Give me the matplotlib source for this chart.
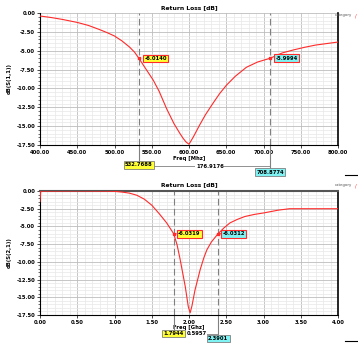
import matplotlib
matplotlib.use("Agg")
import matplotlib.pyplot as plt
from matplotlib.ticker import MultipleLocator, FormatStrFormatter
from matplotlib.lines import Line2D

# ---------------- data ----------------
top_freq = [400, 415, 430, 450, 465, 480, 490, 500, 510, 520, 527, 532.77, 540, 552, 560, 570, 580, 588,
            592, 596, 600, 606, 614, 622, 632, 641, 650, 662, 677, 692, 708.88, 725, 740, 755, 770, 785, 800]
top_db   = [-0.4, -0.6, -0.85, -1.25, -1.65, -2.2, -2.6, -3.05, -3.7, -4.5, -5.2, -6.01, -7.1, -8.9, -10.4, -12.7,
            -14.7, -16.0, -16.6, -17.1, -17.4, -16.4, -14.9, -13.5, -12.0, -10.7, -9.6, -8.4, -7.2, -6.5, -6.0,
            -5.3, -4.9, -4.55, -4.25, -4.05, -3.85]
top_marker_freq = [532.7688, 708.8774]
top_marker_db = [-6.0140, -5.9994]
top_marker_labels = ["-6.0140", "-5.9994"]
top_freq_labels = ["532.7688", "708.8774"]
top_delta_label = "176.9176"

bot_freq = [0.0, 0.01, 0.5, 0.9, 1.0, 1.1, 1.2, 1.3, 1.4, 1.5, 1.6, 1.7, 1.7944, 1.84, 1.88, 1.95, 1.99, 2.015,
            2.04, 2.08, 2.15, 2.2, 2.24, 2.3, 2.3901, 2.47, 2.55, 2.65, 2.75, 2.88, 3.0, 3.1, 3.2, 3.35, 4.0]
bot_db   = [-1.5, -0.02, 0.0, -0.02, -0.05, -0.15, -0.3, -0.6, -1.15, -2.0, -3.2, -4.5, -6.03, -7.6, -9.6, -13.5,
            -16.3, -17.2, -16.2, -14.0, -11.1, -9.4, -8.3, -7.2, -6.03, -5.2, -4.5, -4.0, -3.6, -3.3, -3.1, -2.9,
            -2.7, -2.5, -2.5]
bot_marker_freq = [1.7944, 2.3901]
bot_marker_db = [-6.0319, -6.0312]
bot_marker_labels = ["-6.0319", "-6.0312"]
bot_freq_labels = ["1.7944", "2.3901"]
bot_delta_label = "0.5957"

W, H = 358, 344
fig = plt.figure(figsize=(W / 100, H / 100), dpi=100)
fig.patch.set_facecolor("white")

RED = "#ff2a2a"
FS = 3.8

def px_axes(left, top, right, bottom):
    return fig.add_axes([left / W, 1 - bottom / H, (right - left) / W, (bottom - top) / H])

def style(ax, xlim, xmaj, xmin, xfmt, topspine_color=None):
    ax.set_xlim(*xlim)
    ax.set_ylim(-17.5, 0.0)
    ax.xaxis.set_major_locator(MultipleLocator(xmaj))
    ax.xaxis.set_minor_locator(MultipleLocator(xmin))
    ax.yaxis.set_major_locator(MultipleLocator(2.5))
    ax.yaxis.set_minor_locator(MultipleLocator(0.5))
    ax.xaxis.set_major_formatter(FormatStrFormatter(xfmt))
    ax.yaxis.set_major_formatter(FormatStrFormatter("%.2f"))
    ax.grid(which="major", color="#bdbdbd", lw=0.6)
    ax.grid(which="minor", color="#e8e8e8", lw=0.5)
    ax.set_axisbelow(True)
    ax.tick_params(axis="both", which="major", labelsize=FS, length=2, width=0.5, pad=1.5)
    ax.tick_params(axis="y", which="minor", length=1.5, width=0.4)
    ax.tick_params(axis="x", which="minor", length=0)
    for lab in ax.get_xticklabels() + ax.get_yticklabels():
        lab.set_fontweight("bold")
    for s in ["left", "bottom"]:
        ax.spines[s].set_color("black")
        ax.spines[s].set_linewidth(0.8)
    ax.spines["right"].set_color("black")
    ax.spines["right"].set_linewidth(1.2)
    if topspine_color is None:
        ax.spines["top"].set_visible(False)
    else:
        ax.spines["top"].set_color(topspine_color)
        ax.spines["top"].set_linewidth(1.5)

def markers(ax, mf, md, mlabels, colors, dx_pts):
    for f, d, lab, c in zip(mf, md, mlabels, colors):
        ax.axvline(f, color="#808080", lw=0.8, ls=(0, (6, 3)), zorder=2)
        ax.plot([f], [d], marker="s", ms=1.5, color=RED, zorder=5)
        ax.annotate(lab, xy=(f, d), xytext=(dx_pts, 0), textcoords="offset points",
                    fontsize=FS, fontweight="bold", va="center", ha="left",
                    bbox=dict(boxstyle="square,pad=0.25", fc=c, ec=RED, lw=0.8),
                    arrowprops=dict(arrowstyle="-", color=RED, lw=0.8), zorder=6)

def bottom_labels(ax, mf, flabels, delta, y1, y2, yd, xd):
    tr = ax.get_xaxis_transform()
    ax.plot([mf[0], mf[0]], [0, y1], transform=tr, color="#808080", lw=0.8, clip_on=False)
    ax.plot([mf[1], mf[1]], [0, y2], transform=tr, color="#808080", lw=0.8, clip_on=False)
    ax.plot([mf[0], mf[1]], [yd, yd], transform=tr, color="#808080", lw=0.6, clip_on=False)
    ax.text(xd, yd, delta, transform=tr, fontsize=FS, fontweight="bold", ha="center", va="center",
            bbox=dict(boxstyle="square,pad=0.1", fc="white", ec="none"), clip_on=False, zorder=5)
    ax.text(mf[0], y1, flabels[0], transform=tr, fontsize=FS, fontweight="bold", ha="center", va="center",
            bbox=dict(boxstyle="square,pad=0.25", fc="#ffff33", ec="#808080", lw=0.6), clip_on=False, zorder=6)
    ax.text(mf[1], y2, flabels[1], transform=tr, fontsize=FS, fontweight="bold", ha="center", va="center",
            bbox=dict(boxstyle="square,pad=0.25", fc="#7ff3f3", ec="#808080", lw=0.6), clip_on=False, zorder=6)

# ---------------- top panel ----------------
ax1 = px_axes(40, 13, 338, 145)
style(ax1, (400, 800), 50, 10, "%.2f")
ax1.plot(top_freq, top_db, color=RED, lw=0.8, zorder=4)
markers(ax1, top_marker_freq, top_marker_db, top_marker_labels, ["#ffff33", "#7ff3f3"], 4)
ax1.set_title("Return Loss [dB]", fontsize=4.3, fontweight="bold", pad=2.5)
ax1.set_xlabel("Freq [Mhz]", fontsize=FS, fontweight="bold", labelpad=0.5)
ax1.set_ylabel("dB(S(1,1))", fontsize=FS, fontweight="bold", labelpad=3)
bottom_labels(ax1, top_marker_freq, top_freq_labels, top_delta_label, -0.15, -0.205, -0.16, 628)

# ---------------- bottom panel ----------------
ax2 = px_axes(40, 191, 338, 315)
style(ax2, (0, 4), 0.5, 0.1, "%.2f", topspine_color="#555555")
ax2.plot(bot_freq, bot_db, color=RED, lw=0.8, zorder=4)
markers(ax2, bot_marker_freq, bot_marker_db, bot_marker_labels, ["#ffff33", "#7ff3f3"], 3)
ax2.set_title("Return Loss [dB]", fontsize=4.3, fontweight="bold", pad=3.5)
ax2.set_xlabel("Freq [Ghz]", fontsize=FS, fontweight="bold", labelpad=0)
ax2.set_ylabel("dB(S(2,1))", fontsize=FS, fontweight="bold", labelpad=3)
bottom_labels(ax2, bot_marker_freq, bot_freq_labels, bot_delta_label, -0.15, -0.19, -0.15, 2.1)

# small legend-like tags at right
fig.text(343 / W, 1 - 15 / H, "category", fontsize=2.8, color="#555555", ha="center", va="center")
fig.text(356 / W, 1 - 16 / H, "/", fontsize=3.5, color=RED, ha="center", va="center")
fig.text(343 / W, 1 - 185 / H, "category", fontsize=2.8, color="#555555", ha="center", va="center")
fig.text(356 / W, 1 - 186 / H, "/", fontsize=3.5, color=RED, ha="center", va="center")
fig.add_artist(Line2D([345 / W, 358 / W], [1 - 175 / H, 1 - 175 / H], color="black", lw=0.8))
fig.add_artist(Line2D([345 / W, 358 / W], [1 - 341 / H, 1 - 341 / H], color="black", lw=0.8))

fig.savefig("out.png", dpi=100)
